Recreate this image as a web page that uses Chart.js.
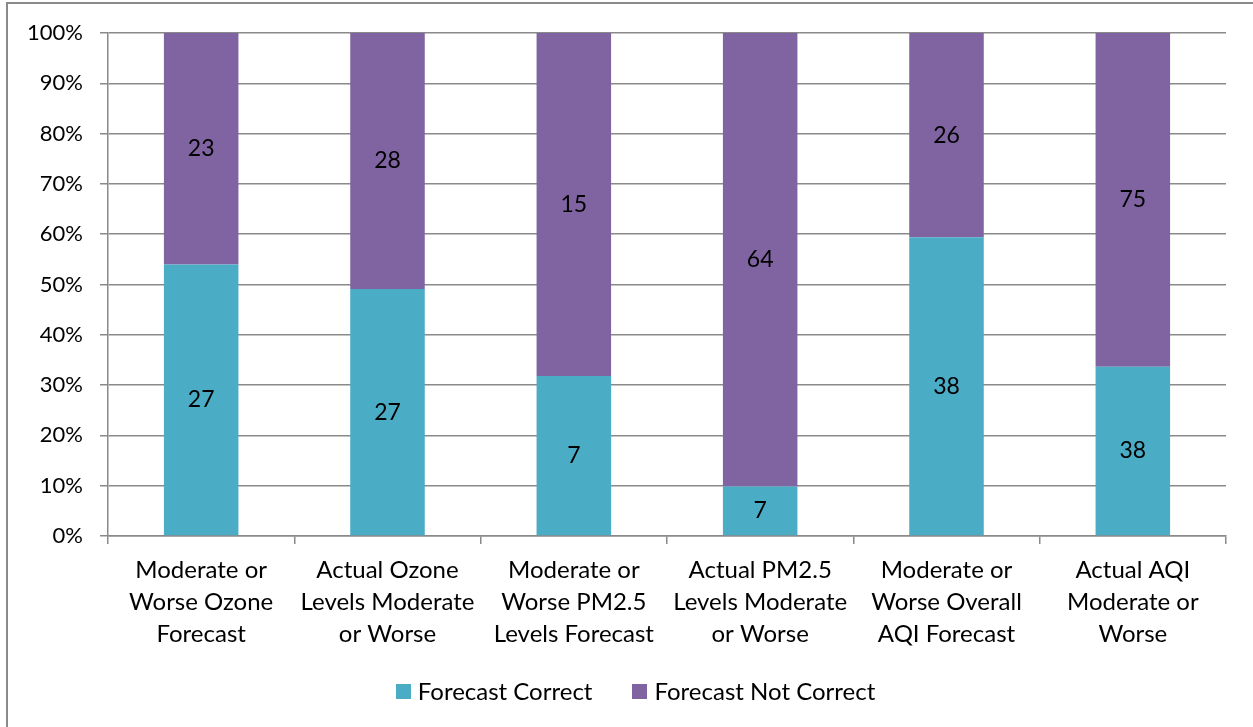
<!DOCTYPE html>
<html>
<head>
<meta charset="utf-8">
<script src="https://cdn.jsdelivr.net/npm/chart.js@4/dist/chart.umd.min.js"></script>
<style>
  html, body { margin: 0; padding: 0; background: #ffffff; }
  #wrap { position: relative; width: 1253px; height: 727px; overflow: hidden; }
  #frame { position: absolute; left: 6px; top: 2px; width: 1300px; height: 800px;
           border: 2px solid #8a8a8a; box-sizing: border-box; pointer-events: none; }
  canvas { position: absolute; left: 0; top: 0; }
  #legend { position: absolute; left: 9px; top: 676px; width: 1253px; display: flex;
            justify-content: center; font-family: Lato, "Open Sans", sans-serif;
            font-size: 24px; color: #000; line-height: 30px; }
  .item { display: flex; align-items: center; margin: 0 20px; }
  .swatch { width: 15px; height: 15px; margin-right: 7px; }
</style>
</head>
<body>
<div id="wrap">
  <canvas id="chart" width="1253" height="727"></canvas>
  <div id="frame"></div>
  <div id="legend"></div>
</div>
<script>
// Forecast outcomes by category (counts of days)
const categories = [
  ['Moderate or', 'Worse Ozone', 'Forecast'],
  ['Actual Ozone', 'Levels Moderate', 'or Worse'],
  ['Moderate or', 'Worse PM2.5', 'Levels Forecast'],
  ['Actual PM2.5', 'Levels Moderate', 'or Worse'],
  ['Moderate or', 'Worse Overall', 'AQI Forecast'],
  ['Actual AQI', 'Moderate or', 'Worse']
];
const seriesNames = ['Forecast Correct', 'Forecast Not Correct'];
const correctCounts = [27, 27, 7, 7, 38, 38];
const notCorrectCounts = [23, 28, 15, 64, 26, 75];
const seriesColors = ['#4BACC6', '#8064A2'];

// 100% stacking: each bar shows its share of the category total
const totals = correctCounts.map((c, i) => c + notCorrectCounts[i]);
const correctPct = correctCounts.map((c, i) => c / totals[i] * 100);
const notCorrectPct = notCorrectCounts.map((c, i) => c / totals[i] * 100);
const countsBySeries = [correctCounts, notCorrectCounts];

const FONT = 'Lato, "Open Sans", sans-serif';
const GRID = '#8a8a8a';

// Writes the raw count in the middle of every stacked segment
const segmentLabels = {
  id: 'segmentLabels',
  afterDatasetsDraw(chart) {
    const ctx = chart.ctx;
    ctx.save();
    ctx.font = '23px ' + FONT;
    ctx.fillStyle = '#000';
    ctx.textAlign = 'center';
    ctx.textBaseline = 'middle';
    chart.data.datasets.forEach((ds, di) => {
      const meta = chart.getDatasetMeta(di);
      meta.data.forEach((el, i) => {
        const y = (el.y + el.base) / 2;
        ctx.fillText(String(countsBySeries[di][i]), el.x, y);
      });
    });
    ctx.restore();
  }
};

const chart = new Chart(document.getElementById('chart'), {
  type: 'bar',
  data: {
    labels: categories,
    datasets: [
      { label: seriesNames[0], data: correctPct, backgroundColor: seriesColors[0] },
      { label: seriesNames[1], data: notCorrectPct, backgroundColor: seriesColors[1] }
    ]
  },
  options: {
    responsive: false,
    animation: false,
    events: [],
    layout: { padding: { top: 33, right: 27, left: 0, bottom: 0 } },
    datasets: { bar: { categoryPercentage: 1, barPercentage: 0.4 } },
    plugins: { legend: { display: false }, tooltip: { enabled: false } },
    scales: {
      x: {
        stacked: true,
        offset: true,
        grid: { offset: true, drawOnChartArea: false, color: GRID, lineWidth: 1.5, tickLength: 8 },
        border: { color: GRID, width: 1.5 },
        ticks: { color: '#000', padding: 10, maxRotation: 0, autoSkip: false,
                 font: { family: FONT, size: 24, lineHeight: 1.333 } },
        afterFit(scale) { scale.height = 191; }
      },
      y: {
        stacked: true,
        min: 0, max: 100,
        ticks: { stepSize: 10, color: '#000', padding: 17,
                 font: { family: FONT, size: 22 },
                 callback: v => v + '%' },
        grid: { color: GRID, lineWidth: 1.5, tickLength: 8 },
        border: { color: GRID, width: 1.5 },
        afterFit(scale) { scale.width = 108; }
      }
    }
  },
  plugins: [segmentLabels]
});

// Legend below the plot, built from the chart's datasets
const legend = document.getElementById('legend');
chart.data.datasets.forEach(ds => {
  const item = document.createElement('div');
  item.className = 'item';
  const sw = document.createElement('span');
  sw.className = 'swatch';
  sw.style.background = ds.backgroundColor;
  const tx = document.createElement('span');
  tx.textContent = ds.label;
  item.appendChild(sw);
  item.appendChild(tx);
  legend.appendChild(item);
});
</script>
</body>
</html>
